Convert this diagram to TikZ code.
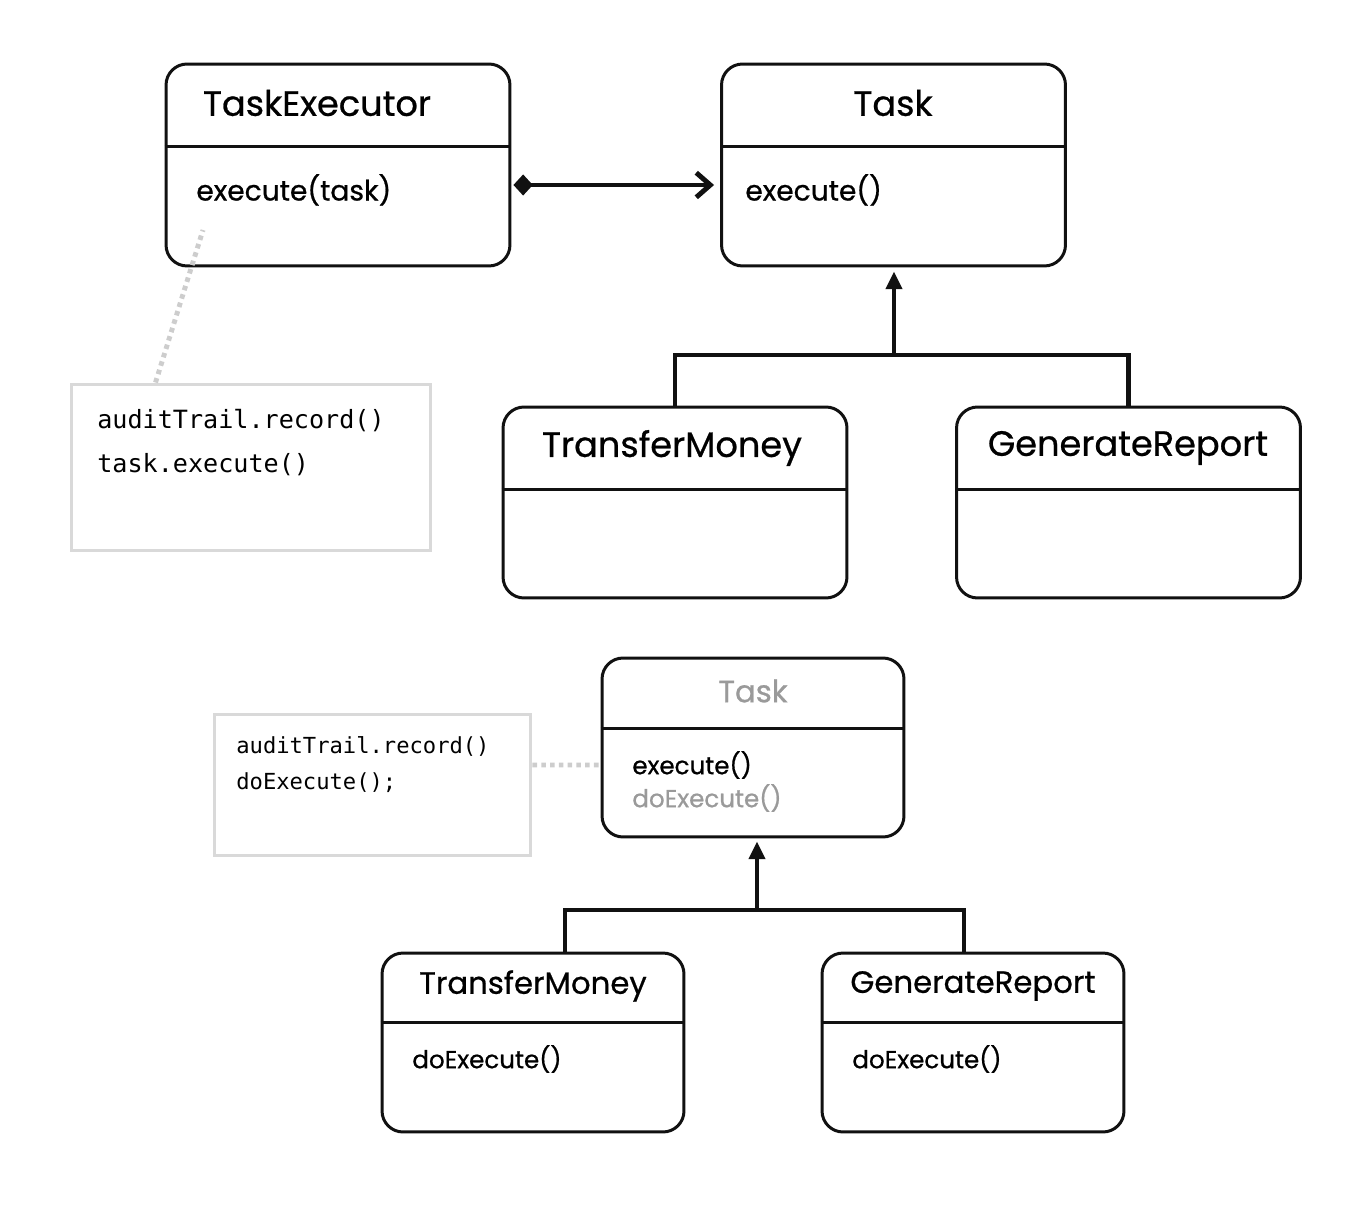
\documentclass[tikz,border=0pt]{standalone}
\usepackage{fontspec}
\setmainfont{Poppins}
\setmonofont{DejaVu Sans Mono}
\newfontfamily\medfont[FakeBold=0.7]{Poppins}
\definecolor{umlink}{HTML}{111111}
\definecolor{notegray}{HTML}{D9D9D9}
\definecolor{linkgray}{HTML}{CDCDCD}
\definecolor{faded}{HTML}{9A9A9A}
\usetikzlibrary{positioning,arrows.meta,calc}

\begin{document}
\begin{tikzpicture}[
  x=0.02cm, y=-0.02cm,
  cls/.style={draw=umlink, line width=1.7pt, rounded corners=0.42cm, fill=white, minimum width=6.88cm, minimum height=4.04cm, inner sep=0pt},
  sub/.style={cls, minimum height=3.82cm},
  cls2/.style={cls, minimum width=6.04cm, minimum height=3.58cm},
  bar/.style={draw=umlink, line width=1.7pt},
  ttl/.style={font=\medfont\fontsize{20}{24}\selectfont, inner sep=0pt},
  ttl2/.style={font=\medfont\fontsize{17.5}{21}\selectfont, inner sep=0pt},
  meth/.style={font=\medfont\fontsize{16}{19}\selectfont, anchor=west, inner sep=0pt},
  meth2/.style={font=\medfont\fontsize{14}{17}\selectfont, anchor=west, inner sep=0pt},
  note/.style={draw=notegray, line width=1.7pt, inner sep=0pt},
  code/.style={font=\ttfamily\fontsize{14.3}{17}\selectfont, anchor=west, inner sep=0pt},
  code2/.style={font=\ttfamily\fontsize{12.6}{15}\selectfont, anchor=west, inner sep=0pt},
  arr/.style={line width=2.8pt, color=umlink, {Diamond[length=11pt, width=12pt]}-{Straight Barb[length=8pt, width=14pt, line width=2.8pt]}},
  tree/.style={line width=2.8pt, color=umlink},
  inh/.style={line width=2.8pt, color=umlink, -{Triangle[length=10pt, width=9pt]}},
  darr/.style={line width=2.8pt, color=linkgray, dash pattern=on 2.6pt off 2.4pt},
]
  \useasboundingbox (0,0) rectangle (1368,1212);

  % top: executor + task
  \node[cls] (te)   at (338,165)   {};
  \node[cls] (task) at (893.5,165) {};
  \draw[bar] ([yshift=-1.68cm]te.north west) -- ([yshift=-1.68cm]te.north east);
  \draw[bar] ([yshift=-1.68cm]task.north west) -- ([yshift=-1.68cm]task.north east);
  \node[ttl]  (tetitle)   at (317,103) {TaskExecutor};
  \node[ttl]  (tasktitle) at (893,103) {Task};
  \node[meth] (teexec)    at (196,190) {execute(task)};
  \node[meth] (taskexec)  at (745,190) {execute()};

  % top: subclasses
  \node[sub] (tm) at (675,502.5)  {};
  \node[sub] (gr) at (1128.5,502.5) {};
  \draw[bar] ([yshift=-1.68cm]tm.north west) -- ([yshift=-1.68cm]tm.north east);
  \draw[bar] ([yshift=-1.68cm]gr.north west) -- ([yshift=-1.68cm]gr.north east);
  \node[ttl] (tmtitle) at (672,448)  {TransferMoney};
  \node[ttl] (grtitle) at (1128,448) {GenerateReport};

  % top: note
  \node[note, minimum width=7.2cm, minimum height=3.34cm] (n1) at (251,467.5) {};
  \node[code] (n1a) at (97,421) {auditTrail.record()};
  \node[code] (n1b) at (97,465) {task.execute()};
  \coordinate (tehook) at (203,230);

  % top: links
  \draw[arr] ([yshift=-0.4cm,xshift=0.04cm]te.east) -- ([yshift=-0.4cm,xshift=-0.12cm]task.west);
  \coordinate (fork) at (894,355);
  \draw[tree] (tm.north) |- (fork) -| (gr.north);
  \draw[inh] (fork) -- ([yshift=-0.08cm]task.south -| fork);
  \draw[darr] ([xshift=1.72cm]n1.north west) -- (tehook);

  % bottom: template method
  \node[cls2] (t2) at (753,747.5) {};
  \draw[bar] ([yshift=-1.44cm]t2.north west) -- ([yshift=-1.44cm]t2.north east);
  \node[ttl2, text=faded] (t2title) at (753,691) {Task};
  \node[meth2] (t2exec) at (632,765) {execute()};
  \node[meth2, text=faded] (t2do) at (632,798) {doExecute()};

  \node[cls2] (tm2) at (533,1042.5) {};
  \node[cls2] (gr2) at (973,1042.5) {};
  \draw[bar] ([yshift=-1.42cm]tm2.north west) -- ([yshift=-1.42cm]tm2.north east);
  \draw[bar] ([yshift=-1.42cm]gr2.north west) -- ([yshift=-1.42cm]gr2.north east);
  \node[ttl2] (tm2title) at (533,986) {TransferMoney};
  \node[ttl2] (gr2title) at (973,986) {GenerateReport};
  \node[meth2] (tm2do) at (412,1059) {doExecute()};
  \node[meth2] (gr2do) at (852,1059) {doExecute()};

  \node[note, minimum width=6.34cm, minimum height=2.84cm] (n2) at (372.5,785) {};
  \node[code2] (n2a) at (236,746) {auditTrail.record()};
  \node[code2] (n2b) at (236,783) {doExecute();};

  % bottom: links
  \coordinate (fork2) at (757,910);
  \draw[tree] ([xshift=0.64cm]tm2.north) |- (fork2) -| ([xshift=-0.18cm]gr2.north);
  \draw[inh] (fork2) -- ([yshift=-0.06cm]t2.south -| fork2);
  \draw[darr] ([yshift=0.4cm]n2.east) -- ([yshift=-0.35cm]t2.west);
\end{tikzpicture}
\end{document}
